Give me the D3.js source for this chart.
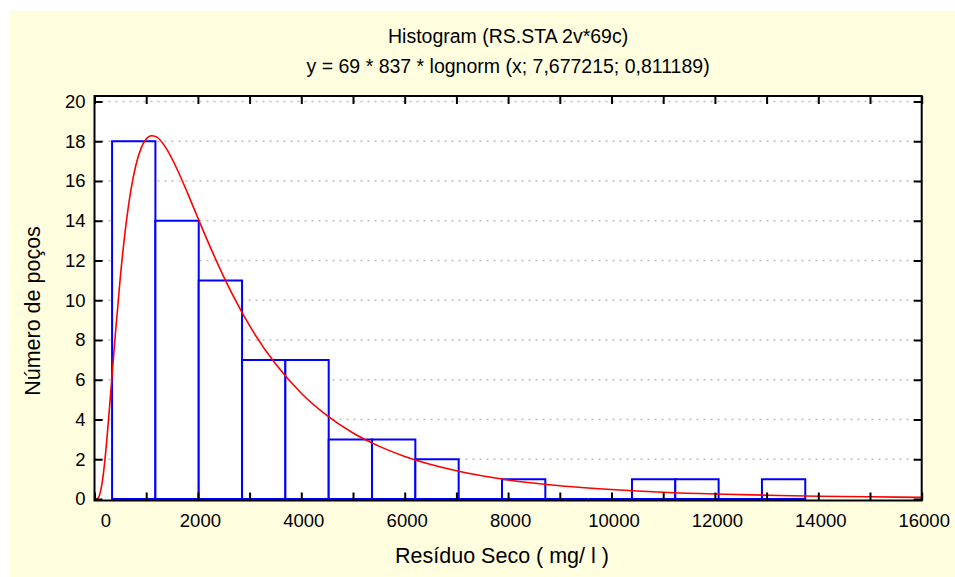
<!DOCTYPE html>
<html>
<head>
<meta charset="utf-8">
<script src="https://cdn.jsdelivr.net/npm/d3@7"></script>
<style>
  body { margin: 0; background: #fff; }
  text { font-family: "Liberation Sans", Arial, sans-serif; fill: #000; }
</style>
</head>
<body>
<div id="chart"></div>
<script>
// histogram bins (mg/l) and well counts
var binEdges = [340, 1178, 2016, 2854, 3692, 4530, 5368, 6206, 7044, 7882,
                8720, 9558, 10396, 11234, 12072, 12910, 13748];
var counts = [18, 14, 11, 7, 7, 3, 3, 2, 0, 1, 0, 0, 1, 1, 0, 1];

// fitted lognormal curve
var fitX = [0, 50, 100, 150, 200, 250, 300, 350, 400, 500, 600, 700, 800, 900,
            1000, 1100, 1200, 1400, 1600, 1800, 2000, 2200, 2500, 2800, 3000,
            3500, 4000, 4500, 5000, 5500, 6000, 7000, 8000, 9000, 10000,
            11000, 12000, 13000, 14000, 15000, 16000];
var fitY = [0, 0.01, 0.22, 0.85, 1.93, 3.33, 4.91, 6.56, 8.19, 11.18, 13.62, 15.48, 16.79, 17.64,
            18.11, 18.28, 18.22, 17.59, 16.58, 15.39, 14.14, 12.91, 11.18, 9.64, 8.72,
            6.80, 5.32, 4.19, 3.32, 2.66, 2.14, 1.42, 0.96, 0.67, 0.48,
            0.34, 0.25, 0.19, 0.14, 0.11, 0.08];

var xTicks = [0, 1000, 2000, 3000, 4000, 5000, 6000, 7000, 8000, 9000, 10000,
              11000, 12000, 13000, 14000, 15000, 16000];
var yTicks = [0, 2, 4, 6, 8, 10, 12, 14, 16, 18, 20];

var titleLines = ["Histogram (RS.STA 2v*69c)",
                  "y = 69 * 837 * lognorm (x; 7,677215; 0,811189)"];

var W = 955, H = 577;
var svg = d3.select("#chart").append("svg").attr("width", W).attr("height", H);

// yellow panel
svg.append("rect").attr("x", 9).attr("y", 11).attr("width", W - 9).attr("height", H - 11)
   .attr("fill", "#ffffe0");

var frame = {left: 94.5, right: 921.7, top: 96, bottom: 500.5};

var x = d3.scaleLinear().domain([0, 16000]).range([frame.left, frame.right]);
var y = d3.scaleLinear().domain([0, 20]).range([499, 101.5]);

// plot background
svg.append("rect")
   .attr("x", frame.left).attr("y", frame.top)
   .attr("width", frame.right - frame.left).attr("height", frame.bottom - frame.top)
   .attr("fill", "#fff");

// dotted grid
svg.append("g").selectAll("line")
   .data(yTicks.filter(function(d) { return d > 0; }))
   .enter().append("line")
   .attr("x1", frame.left).attr("x2", frame.right)
   .attr("y1", function(d) { return y(d); }).attr("y2", function(d) { return y(d); })
   .attr("stroke", "#bdbdbd").attr("stroke-width", 1.5)
   .attr("stroke-dasharray", "2,5");

// bars
var bins = counts.map(function(c, i) { return {x0: binEdges[i], x1: binEdges[i + 1], n: c}; });
svg.append("g").selectAll("path")
   .data(bins)
   .enter().append("path")
   .attr("d", function(d) {
      var b = y(0), t = y(d.n);
      return "M" + x(d.x0) + "," + b + "V" + t + "H" + x(d.x1) + "V" + b + "Z";
   })
   .attr("fill", "#fff")
   .attr("stroke", "#0000ff")
   .attr("stroke-width", 2);

// fitted curve
var fit = fitX.map(function(v, i) { return [v, fitY[i]]; });
var line = d3.line()
   .x(function(d) { return x(d[0]); })
   .y(function(d) { return y(d[1]); })
   .curve(d3.curveMonotoneX);
svg.append("path").datum(fit)
   .attr("fill", "none").attr("stroke", "#ff0000").attr("stroke-width", 1.6)
   .attr("d", line);

// axes, ticks pointing inward on all four sides
var fs = "18.5px";
var gb = svg.append("g").attr("transform", "translate(0," + frame.bottom + ")")
   .call(d3.axisBottom(x).tickValues(xTicks).tickSize(-8).tickPadding(13)
         .tickFormat(function(d) { return d % 2000 === 0 ? d : ""; }));
gb.selectAll("text").attr("font-size", fs)
   .attr("dx", function(d) { return d === 0 ? 11 : 2; });

svg.append("g").attr("transform", "translate(0," + frame.top + ")")
   .call(d3.axisTop(x).tickValues(xTicks).tickSize(-8).tickFormat(""));

var gl = svg.append("g").attr("transform", "translate(" + frame.left + ",0)")
   .call(d3.axisLeft(y).tickValues(yTicks).tickSize(-8).tickPadding(9));
gl.selectAll("text").attr("font-size", fs);

svg.append("g").attr("transform", "translate(" + frame.right + ",0)")
   .call(d3.axisRight(y).tickValues(yTicks).tickSize(-8).tickFormat(""));

svg.selectAll(".domain").remove();
svg.selectAll(".tick line").attr("stroke", "#000").attr("stroke-width", 2);
svg.selectAll(".tick text").attr("fill", "#000").attr("font-family", null);

// frame
svg.append("rect")
   .attr("x", frame.left).attr("y", frame.top)
   .attr("width", frame.right - frame.left).attr("height", frame.bottom - frame.top)
   .attr("fill", "none").attr("stroke", "#000").attr("stroke-width", 2);

// titles
var cx = (frame.left + frame.right) / 2;
svg.append("text").attr("x", cx).attr("y", 43).attr("text-anchor", "middle")
   .attr("font-size", "19.5px").text(titleLines[0]);
svg.append("text").attr("x", cx).attr("y", 73).attr("text-anchor", "middle")
   .attr("font-size", "19.5px").text(titleLines[1]);

svg.append("text").attr("x", 502).attr("y", 563).attr("text-anchor", "middle")
   .attr("font-size", "21.5px").text("Resíduo Seco ( mg/ l )");

svg.append("text").attr("transform", "translate(40,311) rotate(-90)")
   .attr("text-anchor", "middle").attr("font-size", "21.5px").text("Número de poços");
</script>
</body>
</html>
